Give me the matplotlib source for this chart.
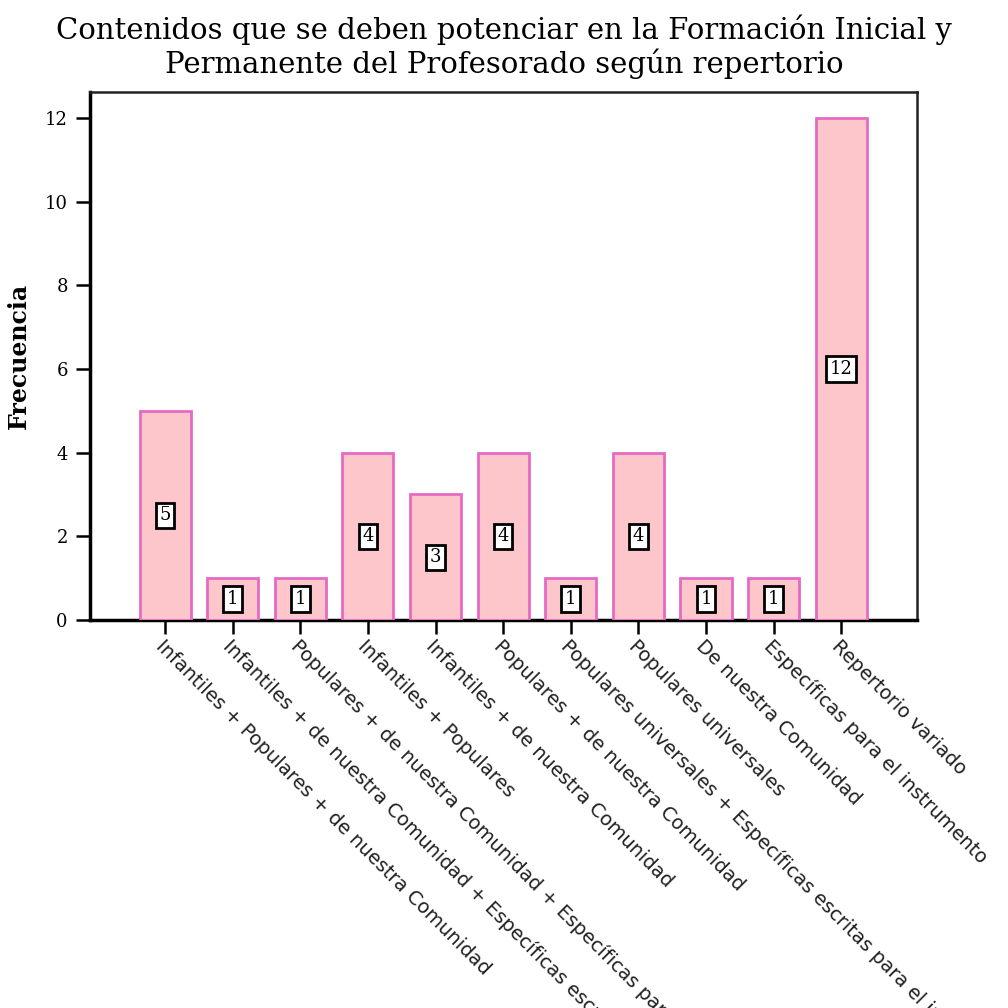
import matplotlib
matplotlib.use("Agg")
import matplotlib.pyplot as plt

categories = [
    "Infantiles + Populares + de nuestra Comunidad",
    "Infantiles + de nuestra Comunidad + Específicas escritas para el instrumento",
    "Populares + de nuestra Comunidad + Específicas para el instrumento",
    "Infantiles + Populares",
    "Infantiles + de nuestra Comunidad",
    "Populares + de nuestra Comunidad",
    "Populares universales + Específicas escritas para el instrumento",
    "Populares universales",
    "De nuestra Comunidad",
    "Específicas para el instrumento",
    "Repertorio variado",
]
values = [5, 1, 1, 4, 3, 4, 1, 4, 1, 1, 12]
yticks = [0, 2, 4, 6, 8, 10, 12]

fig = plt.figure(figsize=(10.08, 10.08), dpi=100)
ax = fig.add_axes([90/1008, 1 - 620/1008, (917-90)/1008, (620-92)/1008])

x = list(range(len(categories)))
bars = ax.bar(x, values, width=0.755, color="#fcc6ca", edgecolor="#e66ac4",
              linewidth=2, zorder=3)

for xi, v in zip(x, values):
    ax.text(xi, v / 2, str(v), ha="center", va="center", fontsize=13,
            family="DejaVu Serif", zorder=4,
            bbox=dict(boxstyle="square,pad=0.2", facecolor="white",
                      edgecolor="black", linewidth=2))

ax.set_xlim(-1.11, 11.12)
ax.set_ylim(0, 12.62)
ax.set_yticks(yticks)
ax.set_yticklabels([str(t) for t in yticks], family="DejaVu Serif", fontsize=13)
ax.set_xticks(x)
ax.set_xticklabels(categories, rotation=-45, ha="left", va="top",
                   rotation_mode="anchor", fontsize=14, family="DejaVu Sans",
                   color="#222222")
ax.tick_params(axis="both", direction="out", length=10, width=1.8, color="black")
ax.tick_params(axis="x", pad=2)
ax.tick_params(axis="y", pad=6)

for s in ["left", "bottom"]:
    ax.spines[s].set_linewidth(2.5)
for s in ["top", "right"]:
    ax.spines[s].set_linewidth(1.8)
    ax.spines[s].set_color("#222222")

ax.set_ylabel("Frecuencia", fontsize=17, fontweight="bold", family="DejaVu Serif",
              labelpad=10)

fig.suptitle("Contenidos que se deben potenciar en la Formación Inicial y\n"
             "Permanente del Profesorado según repertorio",
             x=0.5, y=0.986, fontsize=21, family="DejaVu Serif", linespacing=1.15)

fig.savefig("out.png", dpi=100)
